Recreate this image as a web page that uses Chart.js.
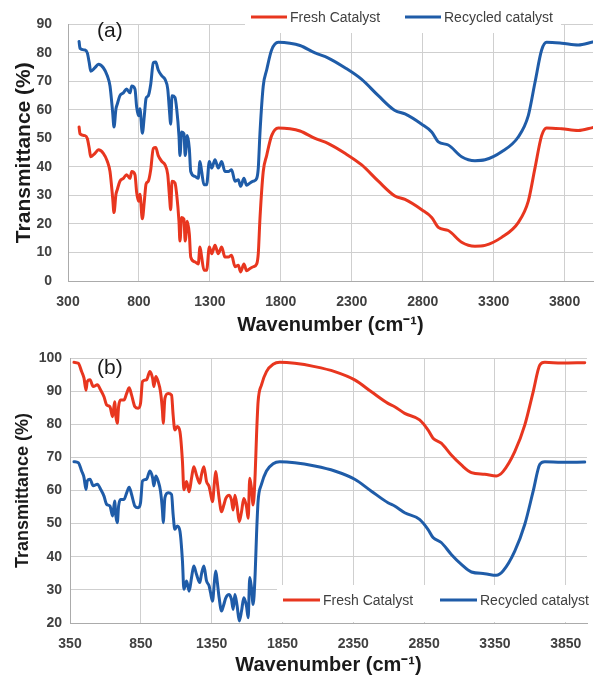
<!DOCTYPE html>
<html><head><meta charset="utf-8">
<script src="https://cdn.jsdelivr.net/npm/chart.js@4.4.0/dist/chart.umd.min.js"></script>
<style>
html,body{margin:0;padding:0;background:#fff;}
#wrap{width:595px;height:675px;position:relative;}
canvas{display:block;}
</style></head><body>
<div id="wrap">
<canvas id="chartA" width="595" height="335"></canvas>
<canvas id="chartB" width="595" height="340"></canvas>
</div>
<script>
const seriesLabels = ['Fresh Catalyst', 'Recycled catalyst'];

// Panel (a)
const waveA = [378,385,420,436,450,460,490,514,549,577,596,615,624,638,647,666,690,713,737,749,772,784,796,807,824,838,850,866,883,901,918,936,960,984,1003,1014,1024,1033,1054,1066,1082,1089,1101,1117,1126,1141,1155,1165,1195,1218,1230,1242,1258,1277,1296,1313,1336,1359,1383,1406,1430,1453,1477,1500,1517,1540,1559,1583,1606,1630,1641,1653,1676,1700,1735,1782,1864,1935,2041,2135,2252,2370,2487,2604,2675,2793,2863,2910,2980,3074,3168,3239,3356,3473,3544,3591,3638,3673,3779,3896,3997];
const freshA = [54,51.6,51,50,46.5,43.6,44.8,46,44.8,42,38.4,29,24,30.4,32,35,36,37.3,36,38.4,37.3,31,28,30.4,21.8,28,34,35,39,46.5,46.8,44,42,40.7,37.3,30.4,25,35,34.4,30.4,21,14,22.3,21.7,14,21,16.5,8.4,6.7,6,11.9,8.4,3.8,3.8,11.9,9.6,12.5,9.6,11.9,8.4,8.4,9,5,5.5,3.2,6,3.6,4.4,5,6,9.6,22,38.4,44,51,53.7,53.4,52.6,50,48.2,44.8,40.7,35,29.8,28.6,25,22.3,18.8,17.7,13.6,12.2,12.5,15.3,20.5,28,39.6,51,53.7,53.4,52.8,53.8];
const recycledA = [84,81.6,81,80,76.5,73.6,74.8,76,74.8,72,68.4,59,54,60.4,62,65,66,67.3,66,68.4,67.3,61,58,60.4,51.8,58,64,65,69,76.5,76.8,74,72,70.7,67.3,60.4,55,65,64.4,60.4,51,44,52.3,51.7,44,51,46.5,38.4,36.7,36,41.9,38.4,33.8,33.8,41.9,39.6,42.5,39.6,41.9,38.4,38.4,39,35,35.5,33.2,36,33.6,34.4,35,36,39.6,52,68.4,74,81,83.7,83.4,82.6,80,78.2,74.8,70.7,65,59.8,58.6,55,52.3,48.8,47.7,43.6,42.2,42.5,45.3,50.5,58,69.6,81,83.7,83.4,82.8,83.8];
const xTicksA = [300,800,1300,1800,2300,2800,3300,3800];
const yTicksA = [0,10,20,30,40,50,60,70,80,90];

// Panel (b)
const waveB = [378,409,432,449,463,472,491,514,543,567,590,609,632,651,665,674,684,693,707,731,750,768,785,808,831,848,862,890,914,933,942,956,972,989,1003,1008,1020,1043,1067,1078,1090,1107,1126,1144,1154,1173,1191,1208,1224,1243,1266,1278,1295,1314,1332,1342,1356,1370,1379,1389,1403,1420,1436,1450,1474,1490,1502,1514,1530,1545,1561,1577,1596,1608,1619,1631,1643,1657,1667,1678,1702,1737,1784,1831,1937,2078,2219,2360,2478,2595,2642,2713,2818,2877,2913,2971,3042,3113,3184,3278,3360,3407,3490,3561,3620,3667,3702,3820,3984];
const freshB = [98.7,98.4,95.9,93.9,90.3,92.9,93.4,91.4,91.9,90.3,88.3,85.8,85.3,82.3,86.8,82.3,80.3,85.3,87.3,87.3,89.3,91,88.8,85.3,84.8,86.3,92.9,93.4,95.9,93.9,91.4,94.4,92.9,89.8,83.8,80.3,87.8,89.3,88.8,82.8,78.3,79.3,77.8,68.7,60.2,62.7,59.6,63.7,67.2,64.7,62.2,64.7,67.2,62.7,61.2,59.2,56.6,62.7,65.7,62.7,57.6,53.6,55.6,57.6,58.6,57.1,54.1,58.6,55.1,50.6,53.6,57.6,55.1,51.6,63.7,60.7,55.6,64.7,76.8,86.8,91.9,95.9,98.1,98.7,98.4,97.4,95.9,93.4,89.8,86.3,85.3,83.3,81.3,78.3,75.8,74.3,70.7,67.7,65.4,64.9,64.4,65.7,71.7,79.8,89.8,97.9,98.7,98.5,98.6];
const recycledB = [68.7,68.4,65.9,63.9,60.3,62.9,63.4,61.4,61.9,60.3,58.3,55.8,55.3,52.3,56.8,52.3,50.3,55.3,57.3,57.3,59.3,61,58.8,55.3,54.8,56.3,62.9,63.4,65.9,63.9,61.4,64.4,62.9,59.8,53.8,50.3,57.8,59.3,58.8,52.8,48.3,49.3,47.8,38.7,30.2,32.7,29.6,33.7,37.2,34.7,32.2,34.7,37.2,32.7,31.2,29.2,26.6,32.7,35.7,32.7,27.6,23.6,25.6,27.6,28.6,27.1,24.1,28.6,25.1,20.6,23.6,27.6,25.1,21.6,33.7,30.7,25.6,34.7,46.8,56.8,61.9,65.9,68.1,68.7,68.4,67.4,65.9,63.4,59.8,56.3,55.3,53.3,51.3,48.3,45.8,44.3,40.7,37.7,35.4,34.9,34.4,35.7,41.7,49.8,59.8,67.9,68.7,68.5,68.6];
const xTicksB = [350,850,1350,1850,2350,2850,3350,3850];
const yTicksB = [20,30,40,50,60,70,80,90,100];

const RED = '#e8361f';
const BLUE = '#1f5ca8';
const FONT = '"Liberation Sans", Arial, sans-serif';

const overlay = {
  id: 'overlay',
  afterDraw(chart, args, o) {
    const ctx = chart.ctx;
    ctx.save();
    ctx.fillStyle = '#fff';
    ctx.fillRect(o.box.x, o.box.y, o.box.w, o.box.h);
    chart.data.datasets.forEach((ds, i) => {
      const x0 = o.items[i];
      ctx.strokeStyle = ds.borderColor;
      ctx.lineWidth = 3;
      ctx.beginPath();
      ctx.moveTo(x0, o.y);
      ctx.lineTo(x0 + o.lineLen, o.y);
      ctx.stroke();
      ctx.fillStyle = '#404040';
      ctx.font = '14px ' + FONT;
      ctx.textBaseline = 'middle';
      ctx.textAlign = 'left';
      ctx.fillText(ds.label, x0 + o.lineLen + 3, o.y + 1);
    });
    ctx.fillStyle = '#1a1a1a';
    ctx.font = '21px ' + FONT;
    ctx.textBaseline = 'middle';
    ctx.textAlign = 'left';
    ctx.fillText(o.panel, o.px, o.py);
    ctx.restore();
  }
};

function makeChart(id, waves, fresh, recycled, xTicks, yTicks, cfg) {
  const pts = arr => waves.map((w, i) => ({x: w, y: arr[i]}));
  const line = {borderWidth: 3, pointRadius: 0, cubicInterpolationMode: 'monotone', borderJoinStyle: 'round', borderCapStyle: 'round'};
  return new Chart(document.getElementById(id), {
    type: 'line',
    data: {
      datasets: [
        Object.assign({label: seriesLabels[0], data: pts(fresh), borderColor: RED, backgroundColor: RED}, line),
        Object.assign({label: seriesLabels[1], data: pts(recycled), borderColor: BLUE, backgroundColor: BLUE}, line)
      ]
    },
    options: {
      responsive: false,
      devicePixelRatio: 1,
      animation: false,
      events: [],
      layout: {padding: {top: cfg.top, right: cfg.right, left: 0, bottom: 0}},
      plugins: {
        legend: {display: false},
        tooltip: {enabled: false},
        overlay: cfg.overlay
      },
      scales: {
        x: {
          type: 'linear',
          min: xTicks[0],
          max: 4000,
          afterBuildTicks: s => { s.ticks = xTicks.map(v => ({value: v})); },
          afterFit: s => { s.height = cfg.xH; },
          ticks: {callback: v => String(v), font: {size: 14, weight: 'bold', family: FONT}, color: '#404040', padding: cfg.xPad, maxRotation: 0, autoSkip: false},
          grid: {color: '#cfcfcf', lineWidth: 1, drawTicks: false},
          border: {color: '#ababab', width: 1},
          title: {display: true, text: 'Wavenumber (cm⁻¹)', color: '#1a1a1a', font: {size: 20, weight: 'bold', family: FONT, lineHeight: 1}, padding: 0}
        },
        y: {
          min: yTicks[0],
          max: yTicks[yTicks.length - 1],
          afterBuildTicks: s => { s.ticks = yTicks.map(v => ({value: v})); },
          afterFit: s => { s.width = cfg.yW; },
          ticks: {callback: v => String(v), font: {size: 14, weight: 'bold', family: FONT}, color: '#404040', padding: cfg.yPad},
          grid: {color: '#cfcfcf', lineWidth: 1, drawTicks: false},
          border: {color: '#ababab', width: 1},
          title: {display: true, text: 'Transmittance (%)', color: '#1a1a1a', font: {size: cfg.yTitle, weight: 'bold', family: FONT, lineHeight: 1}, padding: {top: 14, bottom: 0}}
        }
      }
    },
    plugins: [overlay]
  });
}

makeChart('chartA', waveA, freshA, recycledA, xTicksA, yTicksA, {
  top: 21, right: 2, xH: 54, yW: 68, xPad: 13, yPad: 16, yTitle: 21,
  overlay: {box: {x: 245, y: 0, w: 316, h: 33}, y: 17, lineLen: 36, items: [251, 405], panel: '(a)', px: 97, py: 31}
});
makeChart('chartB', waveB, freshB, recycledB, xTicksB, yTicksB, {
  top: 23, right: 8, xH: 52, yW: 70, xPad: 13, yPad: 8, yTitle: 18,
  overlay: {box: {x: 277, y: 250, w: 318, h: 37}, y: 265, lineLen: 37, items: [283, 440], panel: '(b)', px: 97, py: 33}
});
</script>
</body></html>
